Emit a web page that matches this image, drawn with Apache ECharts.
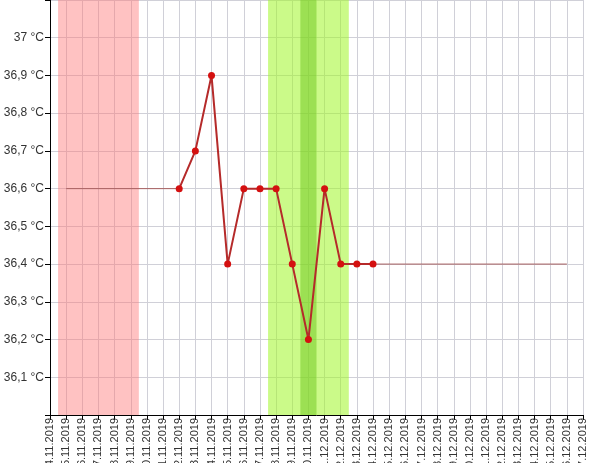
<!DOCTYPE html>
<html>
<head>
<meta charset="utf-8">
<script src="https://cdn.jsdelivr.net/npm/echarts@6/dist/echarts.min.js"></script>
<style>
  html, body { margin: 0; padding: 0; background: #fff; }
  #chart { width: 600px; height: 463px; }
</style>
</head>
<body>
<div id="chart"></div>
<script>
// x categories (one per day)
const dates = [
  '14.11.2019', '15.11.2019', '16.11.2019', '17.11.2019', '18.11.2019', '19.11.2019',
  '20.11.2019', '21.11.2019', '22.11.2019', '23.11.2019', '24.11.2019', '25.11.2019',
  '26.11.2019', '27.11.2019', '28.11.2019', '29.11.2019', '30.11.2019', '01.12.2019',
  '02.12.2019', '03.12.2019', '04.12.2019', '05.12.2019', '06.12.2019', '07.12.2019',
  '08.12.2019', '09.12.2019', '10.12.2019', '11.12.2019', '12.12.2019', '13.12.2019',
  '14.12.2019', '15.12.2019', '16.12.2019', '17.12.2019'
];

// measured temperatures, aligned with dates
const temps = [
  null, null, null, null, null, null, null, null,
  36.6, 36.7, 36.9, 36.4, 36.6, 36.6, 36.6, 36.4, 36.2, 36.6, 36.4, 36.4, 36.4,
  null, null, null, null, null, null, null, null, null, null, null, null, null
];

// thin reference lines [dayIndex, value]
const lineBefore = [[1, 36.6], [8, 36.6]];
const lineAfter = [[20, 36.4], [32, 36.4]];

// shaded periods [from, to] in day index units
const pinkBand = [0.5, 5.5];
const greenBand = [13.5, 18.5];
const darkGreenBand = [15.5, 16.5];

const chart = echarts.init(document.getElementById('chart'));

const option = {
  animation: false,
  grid: { left: 50, right: 17, top: 0, bottom: 48, outerBoundsMode: 'none', containLabel: false },
  xAxis: {
    type: 'value',
    min: 0,
    max: dates.length - 1,
    interval: 1,
    axisLine: { onZero: false, lineStyle: { color: '#000', width: 1 } },
    axisTick: { length: 5, lineStyle: { color: '#000' } },
    axisLabel: {
      rotate: 90,
      fontSize: 11,
      color: '#333',
      fontFamily: 'Arial, Liberation Sans, sans-serif',
      margin: 3,
      showMinLabel: true,
      showMaxLabel: true,
      hideOverlap: false,
      formatter: v => dates[v] || ''
    },
    splitLine: { show: true, lineStyle: { color: '#d0d0d8', width: 1 } }
  },
  yAxis: {
    type: 'value',
    min: 36,
    max: 37.1,
    interval: 0.1,
    axisLine: { show: true, lineStyle: { color: '#000', width: 1 } },
    axisTick: { show: true, length: 5, lineStyle: { color: '#000' } },
    axisLabel: {
      fontSize: 12,
      color: '#333',
      fontFamily: 'Arial, Liberation Sans, sans-serif',
      margin: 6,
      formatter: v => {
        const r = Math.round(v * 10) / 10;
        if (r <= 36 || r >= 37.1) return '';
        return String(r).replace('.', ',') + ' °C';
      }
    },
    splitLine: { show: true, lineStyle: { color: '#d0d0d8', width: 1 } }
  },
  series: [
    {
      type: 'line',
      data: [],
      silent: true,
      markArea: {
        silent: true,
        data: [
          [{ xAxis: pinkBand[0], itemStyle: { color: 'rgba(255,120,120,0.45)' } }, { xAxis: pinkBand[1] }],
          [{ xAxis: greenBand[0], itemStyle: { color: 'rgba(160,245,40,0.55)' } }, { xAxis: greenBand[1] }],
          [{ xAxis: darkGreenBand[0], itemStyle: { color: 'rgba(110,200,30,0.5)' } }, { xAxis: darkGreenBand[1] }]
        ]
      }
    },
    {
      type: 'line',
      data: lineBefore,
      symbol: 'none',
      lineStyle: { color: '#a86060', width: 1 }
    },
    {
      type: 'line',
      data: lineAfter,
      symbol: 'none',
      lineStyle: { color: '#a86060', width: 1 }
    },
    {
      type: 'line',
      data: temps.map((v, i) => [i, v]),
      connectNulls: false,
      symbol: 'circle',
      symbolSize: 7,
      itemStyle: { color: '#d41010' },
      lineStyle: { color: '#b52a2a', width: 2 }
    }
  ]
};

chart.setOption(option);
</script>
</body>
</html>
